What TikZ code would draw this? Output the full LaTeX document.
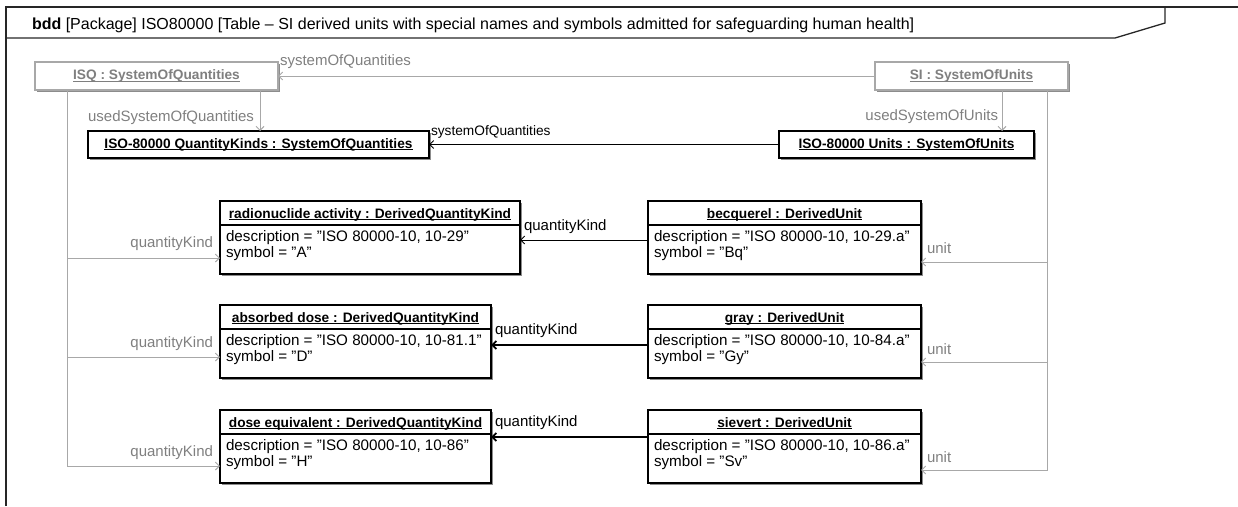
\documentclass[tikz,border=0pt]{standalone}
\usepackage{fontspec}
\setmainfont{Liberation Sans}
\usetikzlibrary{arrows.meta,shadows,calc}
\definecolor{umlgray}{HTML}{7F7F7F}
\definecolor{linegray}{HTML}{A8A8A8}
\newcommand\ulbox[1]{{\setbox0\hbox{#1}\rlap{\rule[-1.8pt]{\wd0}{0.7pt}}\box0}}
\tikzset{
  every node/.style={inner sep=0pt, outer sep=0pt},
  shad/.style={drop shadow={shadow xshift=1.6pt, shadow yshift=-1.6pt, fill=black!45, opacity=1}},
  objbox/.style={draw=black, line width=1.2pt, fill=white, shad},
  sysbox/.style={draw=black, line width=2pt, fill=white, shad},
  graybox/.style={draw=linegray, line width=1.2pt, fill=white, shad},
  ttl/.style={font=\fontsize{13.7}{15}\selectfont\bfseries},
  attr/.style={font=\fontsize{15.2}{16}\selectfont},
  lbl/.style={font=\fontsize{15}{16}\selectfont, text=umlgray},
  blbl/.style={font=\fontsize{15}{16}\selectfont},
  conn/.style={draw=black, line width=1pt, -{Straight Barb[length=4pt,width=8pt]}},
  gconn/.style={draw=linegray, line width=1pt, -{Straight Barb[length=4pt,width=8pt]}},
  frameline/.style={line width=1.3pt, draw=black!85},
}
% name, x, y, width, title, description, symbol
\newcommand\umlobj[7]{%
  \node[objbox, minimum width=#4pt, minimum height=73pt, anchor=north west] (#1) at (#2,#3) {};
  \draw[line width=1.2pt] ([yshift=-24pt]#1.north west) -- ([yshift=-24pt]#1.north east);
  \node[ttl, anchor=base] (#1t) at ([yshift=-17pt]#1.north) {\ulbox{#5}};
  \node[attr, anchor=base west] (#1d) at ([xshift=6pt,yshift=-40.5pt]#1.north west) {#6};
  \node[attr, anchor=base west] (#1s) at ([xshift=6pt,yshift=-56.5pt]#1.north west) {#7};
}
\begin{document}
\begin{tikzpicture}[x=1pt,y=-1pt]
\useasboundingbox (0,0) rectangle (1238,506);
% frame
\draw[frameline] (6,506) -- (6,7) -- (1238,7);
\draw[frameline] (6,38) -- (1115,38) -- (1165,23) -- (1165,7);
\node[anchor=west, font=\fontsize{16}{17}\selectfont] (hdr) at (32,25.5) {\textbf{bdd} [Package] ISO80000 [Table – SI derived units with special names and symbols admitted for safeguarding human health]};

% system boxes
\node[graybox, ttl, text=umlgray, minimum width=243pt, minimum height=28pt, anchor=north west] (ISQ) at (35,62) {\ulbox{ISQ : SystemOfQuantities}};
\node[graybox, ttl, text=umlgray, minimum width=193pt, minimum height=28pt, anchor=north west] (SI) at (875,62) {\ulbox{SI : SystemOfUnits}};
\node[sysbox, ttl, minimum width=341pt, minimum height=27pt, anchor=north west] (QK) at (88,131) {\ulbox{ISO-80000 QuantityKinds : SystemOfQuantities}};
\node[sysbox, ttl, minimum width=255pt, minimum height=27pt, anchor=north west] (Units) at (779,131) {\ulbox{ISO-80000 Units : SystemOfUnits}};

% object boxes
\umlobj{rad}{220}{201}{300}{radionuclide activity : DerivedQuantityKind}{description = "ISO 80000-10, 10-29"}{symbol = "A"}
\umlobj{abs}{220}{305}{271}{absorbed dose : DerivedQuantityKind}{description = "ISO 80000-10, 10-81.1"}{symbol = "D"}
\umlobj{dose}{220}{410}{271}{dose equivalent : DerivedQuantityKind}{description = "ISO 80000-10, 10-86"}{symbol = "H"}
\umlobj{bq}{648}{201}{273}{becquerel : DerivedUnit}{description = "ISO 80000-10, 10-29.a"}{symbol = "Bq"}
\umlobj{gy}{648}{305}{273}{gray : DerivedUnit}{description = "ISO 80000-10, 10-84.a"}{symbol = "Gy"}
\umlobj{sv}{648}{410}{273}{sievert : DerivedUnit}{description = "ISO 80000-10, 10-86.a"}{symbol = "Sv"}

% top connectors
\draw[gconn] (SI.west) -- (ISQ.east);
\node[lbl, anchor=west] (l1) at (280,62) {systemOfQuantities};
\draw[gconn] ([xshift=-18pt]ISQ.south east) -- ([xshift=-18pt]ISQ.south east |- QK.north);
\node[lbl, anchor=east] (l2) at (254,118) {usedSystemOfQuantities};
\draw[gconn] ([xshift=-66pt]SI.south east) -- ([xshift=-66pt]SI.south east |- Units.north);
\node[lbl, anchor=east] (l3) at (998,117) {usedSystemOfUnits};
\draw[conn] (Units.west) -- (QK.east);
\node[font=\fontsize{13.7}{15}\selectfont, anchor=west] (l4) at (431,132) {systemOfQuantities};

% left trunk
\coordinate (LT) at ([xshift=32pt]ISQ.south west);
\draw[gconn] (LT) |- ([yshift=-57pt]rad.north west);
\draw[gconn] (LT) |- ([yshift=-52pt]abs.north west);
\draw[gconn] (LT) |- ([yshift=-56pt]dose.north west);
\node[lbl, anchor=east] (q1) at (213,244) {quantityKind};
\node[lbl, anchor=east] (q2) at (213,344) {quantityKind};
\node[lbl, anchor=east] (q3) at (213,453) {quantityKind};

% right trunk
\coordinate (RT) at ([xshift=-21pt]SI.south east);
\draw[gconn] (RT) |- ([yshift=-61pt]bq.north east);
\draw[gconn] (RT) |- ([yshift=-57pt]gy.north east);
\draw[gconn] (RT) |- ([yshift=-60pt]sv.north east);
\node[lbl, anchor=west] (u1) at (927,248) {unit};
\node[lbl, anchor=west] (u2) at (927,349) {unit};
\node[lbl, anchor=west] (u3) at (927,457) {unit};

% unit -> quantity kind
\draw[conn] ([yshift=-39pt]bq.north west) -- ([yshift=-39pt]bq.north west -| rad.east);
\node[blbl, anchor=west] (k1) at (524,227) {quantityKind};
\draw[conn, line width=1.8pt] ([yshift=-40pt]gy.north west) -- ([yshift=-40pt]gy.north west -| abs.east);
\node[blbl, anchor=west] (k2) at (495,331) {quantityKind};
\draw[conn, line width=1.8pt] ([yshift=-27pt]sv.north west) -- ([yshift=-27pt]sv.north west -| dose.east);
\node[blbl, anchor=west] (k3) at (495,423) {quantityKind};
\end{tikzpicture}
\end{document}
